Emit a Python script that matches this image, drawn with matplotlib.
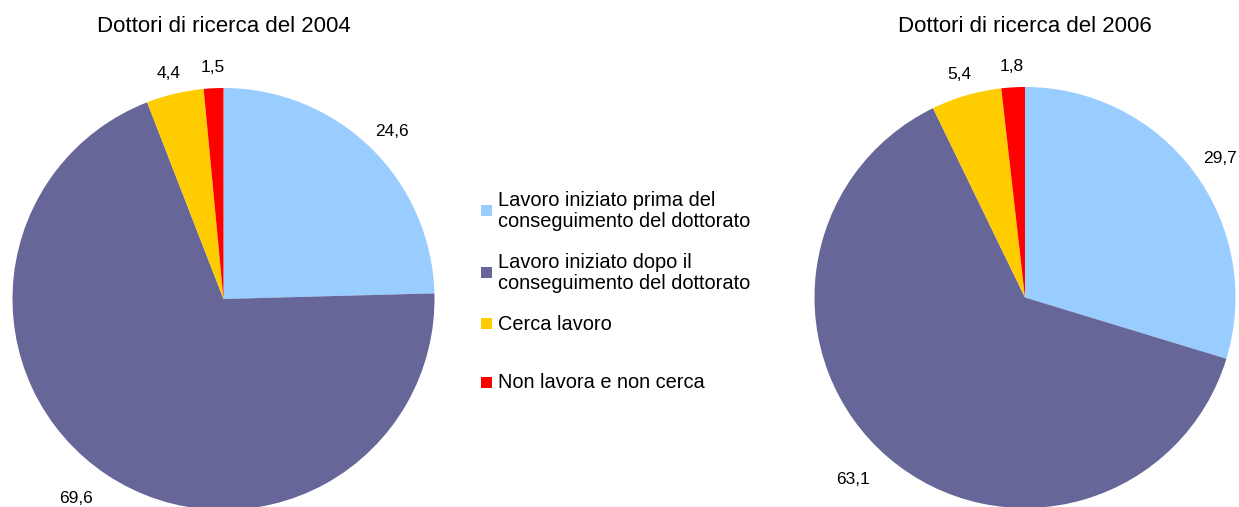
import numpy as np
import matplotlib.pyplot as plt
from matplotlib.patches import Rectangle

## Data
categories = ['Lavoro iniziato prima del\nconseguimento del dottorato',
              'Lavoro iniziato dopo il\nconseguimento del dottorato',
              'Cerca lavoro',
              'Non lavora e non cerca']
values_2004 = [24.6, 69.6, 4.4, 1.5]
values_2006 = [29.7, 63.1, 5.4, 1.8]
titles = ['Dottori di ricerca del 2004', 'Dottori di ricerca del 2006']
colors = ['#99CCFF', '#666699', '#FFCC00', '#FF0000']

W, H = 1239, 507
fig = plt.figure(figsize=(W / 100, H / 100), dpi=100)

body_font = ['Liberation Sans', 'DejaVu Sans']

## pie centre / radius in pixels (from top-left)
pies = [(223.5, 299.0, 211.0, values_2004, titles[0]),
        (1025.0, 297.5, 210.5, values_2006, titles[1])]

for cx, cy, r, vals, title in pies:
    k = 1.4
    ax = fig.add_axes([(cx - k * r) / W, (H - cy - k * r) / H, 2 * k * r / W, 2 * k * r / H])
    wedges, _ = ax.pie(vals, colors=colors, startangle=90, counterclock=False,
                       radius=1.0, wedgeprops=dict(linewidth=0))
    ax.set_xlim(-k, k)
    ax.set_ylim(-k, k)
    ax.set_aspect('equal')
    ax.axis('off')

    ## data labels just outside each slice (wider offset sideways, like Excel)
    for w, v in zip(wedges, vals):
        ang = np.deg2rad((w.theta1 + w.theta2) / 2)
        xf = 1.2 - 0.08 * np.sin(ang)
        yf = 1.12 - 0.02 * np.sin(ang)
        ax.text(xf * np.cos(ang), yf * np.sin(ang), f'{v:.1f}'.replace('.', ','),
                ha='center', va='center', fontsize=12.5, family=body_font)

    fig.text(cx / W, 1 - 27 / H, title, ha='center', va='center',
             fontsize=16, family=body_font)

## Legend drawn by hand, Excel-style uneven spacing
legend_y = [211, 273, 324, 383]
for lab, col, y in zip(categories, colors, legend_y):
    fig.patches.append(Rectangle((481 / W, 1 - (y + 5) / H), 11 / W, 11 / H,
                                 transform=fig.transFigure, facecolor=col,
                                 edgecolor='none'))
    fig.text(498 / W, 1 - y / H, lab, ha='left', va='center', fontsize=14.4,
             family=body_font, linespacing=1.15)

plt.savefig('out.png', dpi=100)
